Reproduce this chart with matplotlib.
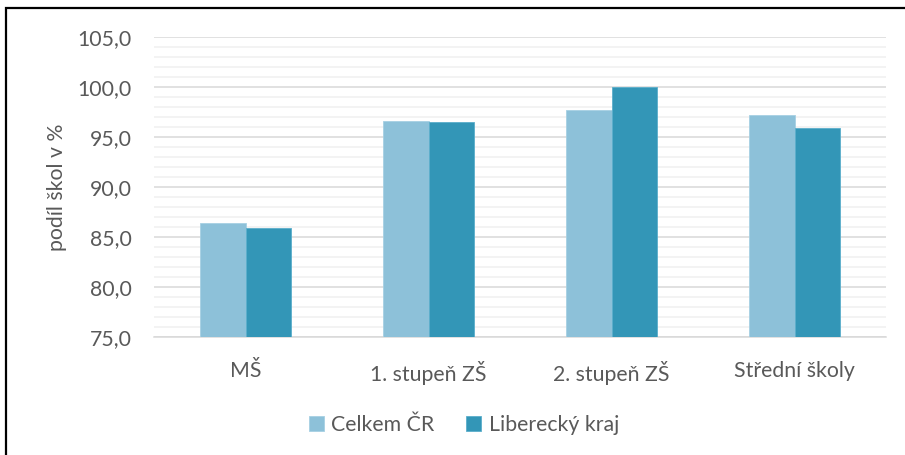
import matplotlib
matplotlib.use("Agg")
import matplotlib.pyplot as plt
import numpy as np
from matplotlib.patches import Rectangle
from matplotlib.ticker import FuncFormatter, MultipleLocator

categories = ["MŠ", "1. stupeň ZŠ", "2. stupeň ZŠ", "Střední školy"]
celkem_cr = [86.4, 96.6, 97.7, 97.2]
liberecky = [85.9, 96.5, 100.0, 95.9]
series_names = ["Celkem ČR", "Liberecký kraj"]
y_label = "podíl škol v %"

plt.rcParams['font.family'] = ['Lato', 'DejaVu Sans']

W, H = 905, 455
fig = plt.figure(figsize=(W / 100, H / 100), dpi=100)

ax = fig.add_axes([154 / W, (H - 337) / H, 732 / W, 300 / H])

x = np.arange(len(categories))
bw = 0.25
c1 = "#8DC1D9"
c2 = "#3396B7"
ax.bar(x - bw / 2, celkem_cr, bw, color=c1, label=series_names[0], zorder=3,
       edgecolor="#A6D0E3", linewidth=0.6)
ax.bar(x + bw / 2, liberecky, bw, color=c2, label=series_names[1], zorder=3,
       edgecolor="#5AAECB", linewidth=0.6)

fs = 15.3
ax.set_xlim(-0.5, len(categories) - 0.5)
ax.set_ylim(75, 105)
ax.yaxis.set_major_locator(MultipleLocator(5))
ax.yaxis.set_minor_locator(MultipleLocator(1))
ax.yaxis.set_major_formatter(FuncFormatter(lambda v, p: f"{v:.1f}".replace(".", ",")))
ax.grid(axis="y", which="major", color="#D9D9D9", linewidth=1.1, zorder=1)
ax.grid(axis="y", which="minor", color="#F0F0F0", linewidth=1.1, zorder=0)
ax.tick_params(axis="both", which="both", length=0)
ax.tick_params(axis="y", pad=16, labelsize=fs, labelcolor="#595959")
ax.tick_params(axis="x", pad=17, labelsize=fs, labelcolor="#595959")
ax.set_xticks(x)
ax.set_xticklabels(categories)
for s in ["top", "right", "left"]:
    ax.spines[s].set_visible(False)
ax.spines["bottom"].set_color("#D9D9D9")
ax.spines["bottom"].set_linewidth(1.1)

ax.set_ylabel(y_label, fontsize=fs, color="#595959")
ax.yaxis.set_label_coords(-87 / 732, 0.5)

leg = fig.legend(loc="center", bbox_to_anchor=(464 / W, (H - 425) / H), ncol=2,
                 frameon=False, fontsize=fs, labelcolor="#595959",
                 handlelength=0.7, handleheight=0.7, handletextpad=0.35,
                 columnspacing=1.5)

# outer frame (partially outside the image)
fig.patches.append(Rectangle((6 / W, -0.1), 1.2, 1.1 - 8 / H, transform=fig.transFigure,
                             fill=False, edgecolor="black", linewidth=1.6))

fig.savefig("out.png", dpi=100)
